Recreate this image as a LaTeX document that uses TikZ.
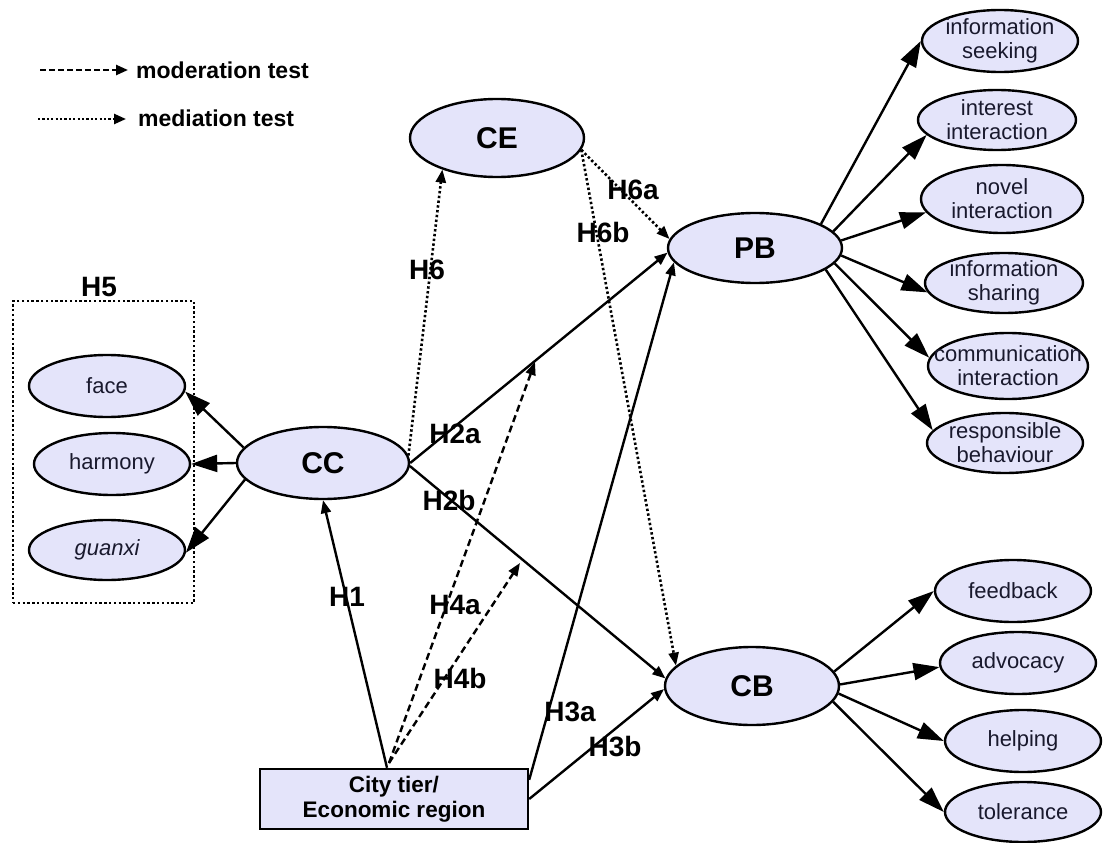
\documentclass[tikz,border=0pt]{standalone}
\usepackage{fontspec}
\setmainfont{Liberation Sans}
\usetikzlibrary{shapes.geometric,arrows.meta}
\definecolor{nodefill}{RGB}{228,228,250}
\definecolor{txt}{RGB}{25,25,45}
\begin{document}
\begin{tikzpicture}[x=1pt,y=-1pt,
  ov/.style={ellipse,draw,line width=2.4pt,fill=nodefill,inner xsep=-40pt,inner ysep=-14pt,align=center},
  big/.style={ov,font=\fontsize{30}{32}\selectfont\bfseries},
  ind/.style={ov,font=\fontsize{22}{24}\selectfont,text=txt},
  lat/.style={line width=2.4pt,-{Triangle[length=13pt,width=10pt]}},
  load/.style={line width=2.4pt,-{Triangle[length=26pt,width=17pt]}},
  modr/.style={lat,dash pattern=on 7pt off 4pt},
  medi/.style={lat,line width=2.6pt,dash pattern=on 2.4pt off 2.4pt},
  hyp/.style={font=\fontsize{28}{30}\selectfont\bfseries,inner sep=0pt},
  legtxt/.style={font=\fontsize{23}{25}\selectfont\bfseries,inner sep=0pt,anchor=base west},
]
\useasboundingbox (0,0) rectangle (1104,843);

% legend
\coordinate (lda) at (40,70);  \coordinate (ldb) at (128,70);
\coordinate (lma) at (38,119); \coordinate (lmb) at (126,119);
\draw[line width=2.4pt,dash pattern=on 6pt off 3pt,-{Triangle[length=12pt,width=10pt]}] (lda) -- (ldb);
\draw[line width=2.4pt,dash pattern=on 2.2pt off 2.2pt,-{Triangle[length=12pt,width=10pt]}] (lma) -- (lmb);
\node[legtxt] (legd) at (136,78) {moderation test};
\node[legtxt] (legm) at (138,126) {mediation test};

% group of cultural dimensions
\node[draw,line width=2.6pt,dash pattern=on 2.4pt off 2.4pt,minimum width=181pt,minimum height=302pt,inner sep=0pt] (grp) at (103.5,452) {};
\node[hyp] (h5) at (99,287) {H5};

% constructs
\node[big,minimum width=174pt,minimum height=78pt] (CE) at (497,138) {CE};
\node[big,minimum width=174pt,minimum height=70pt] (PB) at (755,248) {PB};
\node[big,minimum width=174pt,minimum height=78pt] (CB) at (752,686) {CB};
\node[big,minimum width=172pt,minimum height=72pt] (CC) at (323,463) {CC};
\node[draw,line width=2.4pt,fill=nodefill,minimum width=268pt,minimum height=60pt,inner sep=0pt,align=center,
      font=\fontsize{22.5}{25}\selectfont\bfseries] (city) at (394,799) {City tier/\\Economic region};

% cultural dimensions
\node[ind,minimum width=156pt,minimum height=62pt] (face) at (107,386) {face};
\node[ind,minimum width=156pt,minimum height=62pt] (harm) at (112,464) {harmony};
\node[ind,minimum width=156pt,minimum height=60pt] (guan) at (107,550) {\itshape guanxi};

% participation behaviour indicators
\node[ind,minimum width=156pt,minimum height=62pt] (is) at (1000,41) {information\\seeking};
\node[ind,minimum width=158pt,minimum height=60pt] (ii) at (997,120) {interest\\interaction};
\node[ind,minimum width=162pt,minimum height=68pt] (ni) at (1002,199) {novel\\interaction};
\node[ind,minimum width=158pt,minimum height=60pt] (ish) at (1004,283) {information\\sharing};
\node[ind,minimum width=160pt,minimum height=66pt] (ci) at (1008,366) {communication\\interaction};
\node[ind,minimum width=156pt,minimum height=60pt] (rb) at (1005,443) {responsible\\behaviour};

% citizenship behaviour indicators
\node[ind,minimum width=156pt,minimum height=62pt] (fb) at (1013,591) {feedback};
\node[ind,minimum width=156pt,minimum height=62pt] (adv) at (1018,663) {advocacy};
\node[ind,minimum width=156pt,minimum height=62pt] (help) at (1023,741) {helping};
\node[ind,minimum width=156pt,minimum height=60pt] (tol) at (1023,812) {tolerance};

% loadings
\draw[load] (CC.169) -- (face.356);
\draw[load] (CC.180) -- (harm.east);
\draw[load] (CC.192) -- (guan.358);
\draw[load] (PB.20)  -- (is.180);
\draw[load] (PB.12)  -- (ii.192);
\draw[load] (PB.5)   -- (ni.190);
\draw[load] (PB.-5)  -- (ish.187);
\draw[load] (PB.-11) -- (ci.174);
\draw[load] (PB.-17) -- (rb.170);
\draw[load] (CB.10)  -- (fb.west);
\draw[load] (CB.1)   -- (adv.183);
\draw[load] (CB.-5)  -- (help.west);
\draw[load] (CB.-11) -- (tol.west);

% structural paths
\coordinate (cityA) at ([xshift=-7pt]city.north);
\coordinate (cityM) at (389,763);
\coordinate (h4at) at (535,362);
\coordinate (h4bt) at (520,563);
\draw[lat] (cityA) -- (CC.south);
\draw[lat] (CC.east) -- (PB.183);
\draw[lat] (CC.358) -- (CB.175);
\draw[lat] ([yshift=-12pt]city.north east) -- (PB.190);
\draw[lat] (city.east) -- (CB.182);
\draw[modr] (cityM) -- (h4at);
\draw[modr] (cityM) -- (h4bt);
\draw[medi] (CC.5) -- (CE.210);
\draw[medi] (CE.352) -- (PB.174);
\draw[medi] (CE.352) -- (CB.165);

% hypothesis labels
\node[hyp] (h6) at (427,270) {H6};
\node[hyp] (h6a) at (633,190) {H6a};
\node[hyp] (h6b) at (603,232) {H6b};
\node[hyp] (h2a) at (455,434) {H2a};
\node[hyp] (h2b) at (449,500) {H2b};
\node[hyp] (h1) at (347,597) {H1};
\node[hyp] (h4a) at (455,605) {H4a};
\node[hyp] (h4b) at (460,678) {H4b};
\node[hyp] (h3a) at (570,712) {H3a};
\node[hyp] (h3b) at (615,747) {H3b};
\end{tikzpicture}
\end{document}
